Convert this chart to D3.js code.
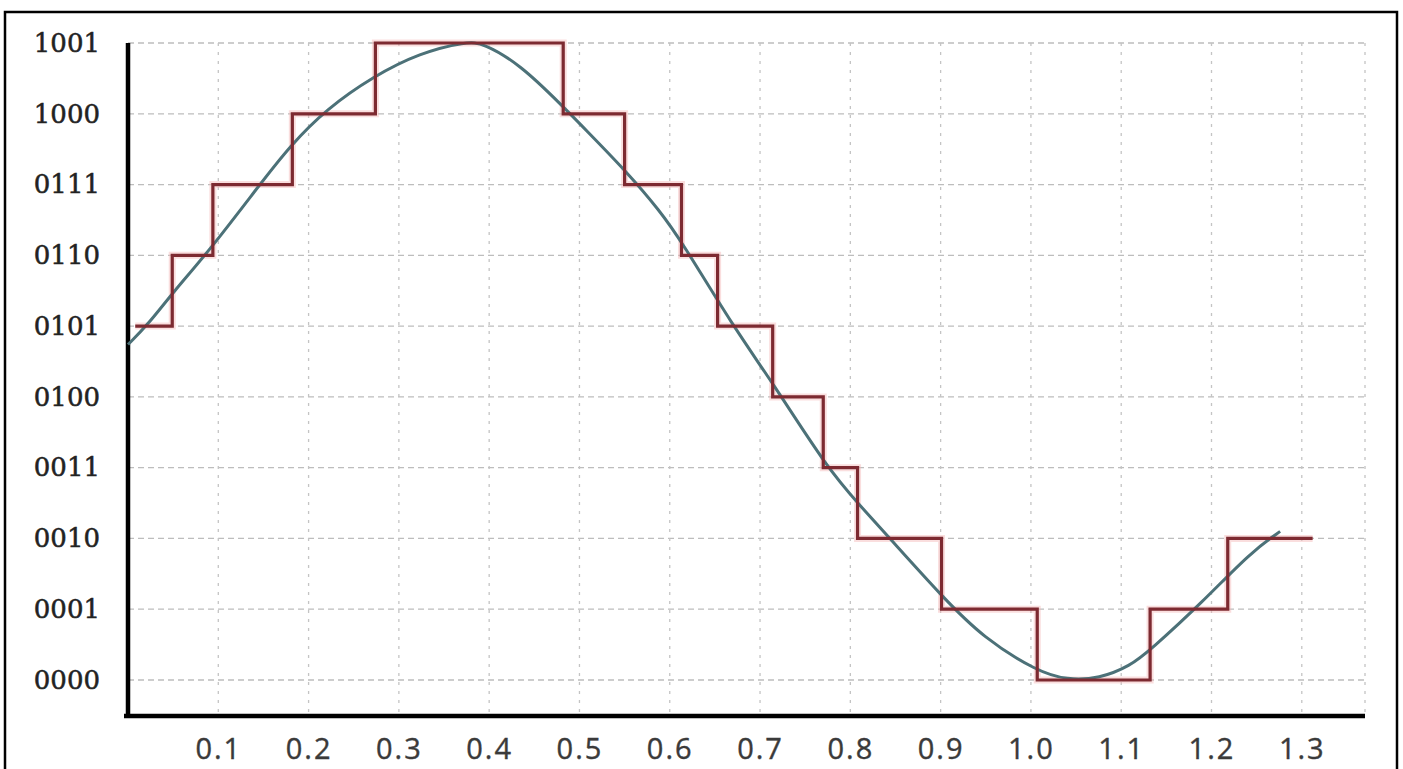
<!DOCTYPE html>
<html>
<head>
<meta charset="utf-8">
<script src="https://cdn.jsdelivr.net/npm/d3@7"></script>
<style>
  html, body { margin: 0; padding: 0; background: #fff; }
</style>
</head>
<body>
<div id="chart"></div>
<script>
// y levels (4 bit codes)
const levelLabels = ["0000", "0001", "0010", "0011", "0100", "0101", "0110", "0111", "1000", "1001"];
const xTicks = [0.1, 0.2, 0.3, 0.4, 0.5, 0.6, 0.7, 0.8, 0.9, 1.0, 1.1, 1.2, 1.3];

// quantized (step) signal: edges on x, one level per interval
const stepEdges = [0.008, 0.049, 0.094, 0.182, 0.274, 0.482, 0.550, 0.613, 0.653, 0.714, 0.770, 0.808, 0.901, 1.007, 1.132, 1.218, 1.312];
const stepLevels = [5, 6, 7, 8, 9, 8, 7, 6, 5, 4, 3, 2, 1, 0, 1, 2];

// analog signal
const curveX = [0, 0.022, 0.050, 0.091, 0.146, 0.179, 0.220, 0.272, 0.323, 0.375, 0.393, 0.434, 0.482, 0.508, 0.553, 0.589, 0.613, 0.670, 0.714, 0.774, 0.811, 0.841, 0.903, 0.947, 1.007, 1.040, 1.076, 1.110, 1.132, 1.190, 1.243, 1.276];
const curveY = [4.74, 5.02, 5.48, 6.08, 7.0, 7.54, 8.07, 8.53, 8.86, 9.02, 9.0, 8.7, 8.10, 7.76, 7.17, 6.63, 6.2, 5.0, 4.2, 3.0, 2.46, 2.04, 1.16, 0.6, 0.12, 0.0, 0.02, 0.2, 0.42, 1.1, 1.8, 2.1];

const W = 1403, H = 769;

let svg = d3.select("#chart").append("svg")
  .attr("width", W)
  .attr("height", H);

// outer frame
svg.append("rect")
  .attr("x", 5).attr("y", 12)
  .attr("width", 1392).attr("height", H + 20)
  .style("fill", "none")
  .style("stroke", "#000")
  .style("stroke-width", 2.5);

let x = d3.scaleLinear().domain([0, 1.37]).range([128, 1365]);
let y = d3.scaleLinear().domain([0, 9]).range([680, 43]);
const axisY = 716;

// grid
let grid = svg.append("g");
grid.selectAll(".hgrid").data(d3.range(levelLabels.length)).enter()
  .append("line")
  .attr("x1", x(0)).attr("x2", x(1.37))
  .attr("y1", d => y(d)).attr("y2", d => y(d))
  .style("stroke", "#bdbdbd")
  .style("stroke-width", 1.3)
  .style("stroke-dasharray", "6 4");
grid.selectAll(".vgrid").data(xTicks.concat([1.37])).enter()
  .append("line")
  .attr("x1", d => x(d)).attr("x2", d => x(d))
  .attr("y1", y(9)).attr("y2", axisY)
  .style("stroke", "#c4c4c4")
  .style("stroke-width", 1.3)
  .style("stroke-dasharray", "3 6");

// axes
let xAxis = d3.axisBottom(x).tickValues(xTicks).tickFormat(d3.format(".1f")).tickSize(0);
let gx = svg.append("g").attr("transform", `translate(0,${axisY})`).call(xAxis);
gx.select(".domain").attr("d", `M124,0H${x(1.37)}`).style("stroke", "#000").style("stroke-width", 4.5);
gx.selectAll("text")
  .attr("y", 22)
  .attr("dy", "0.71em")
  .style("font-family", "'Open Sans', sans-serif")
  .style("font-size", "29px")
  .style("letter-spacing", "2px")
  .style("fill", "#3a3a3a")
  .style("stroke", "#3a3a3a")
  .style("stroke-width", 0.4);

let yAxis = d3.axisLeft(y).tickValues(d3.range(levelLabels.length)).tickFormat(d => levelLabels[d]).tickSize(0);
let gy = svg.append("g").attr("transform", `translate(${x(0)},0)`).call(yAxis);
gy.select(".domain").attr("d", `M0,${y(9)}V${axisY + 2}`).style("stroke", "#000").style("stroke-width", 4.5);
gy.selectAll("text")
  .attr("x", -28)
  .style("font-family", "'DejaVu Serif', serif")
  .style("font-size", "26px")
  .style("fill", "#222")
  .style("stroke", "#222")
  .style("stroke-width", 0.5);

// step signal
let stepPts = stepLevels.map((l, i) => [stepEdges[i], l]);
stepPts.push([stepEdges[stepEdges.length - 1], stepLevels[stepLevels.length - 1]]);
let stepLine = d3.line()
  .x(d => x(d[0]))
  .y(d => y(d[1]))
  .curve(d3.curveStepAfter);

// faint halo round the line, like in the picture
svg.append("path")
  .attr("d", stepLine(stepPts))
  .style("fill", "none")
  .style("stroke", "#f4b5b5")
  .style("stroke-width", 7)
  .style("opacity", 0.45);

// analog curve
let curvePts = curveX.map((v, i) => [v, curveY[i]]);
let curveLine = d3.line()
  .x(d => x(d[0]))
  .y(d => y(d[1]))
  .curve(d3.curveBasis);

svg.append("path")
  .attr("d", curveLine(curvePts))
  .style("fill", "none")
  .style("stroke", "#4c7178")
  .style("stroke-width", 3);

svg.append("path")
  .attr("d", stepLine(stepPts))
  .style("fill", "none")
  .style("stroke", "#7d2a31")
  .style("stroke-width", 3.2);
</script>
</body>
</html>
